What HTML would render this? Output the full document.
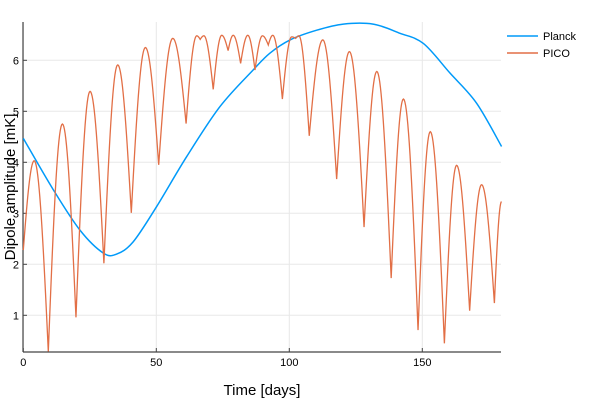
<!DOCTYPE html>
<html><head><meta charset="utf-8"><style>
body{margin:0;background:#fff}
svg{display:block;font-family:"Liberation Sans",sans-serif}
</style></head><body>
<svg id="chart" width="600" height="400" viewBox="0 0 600 400" xmlns="http://www.w3.org/2000/svg">
<g id="grid"></g>
<g id="axes"></g>
<g id="series"></g>
<text x="262" y="395" font-size="15" text-anchor="middle" fill="#000">Time [days]</text>
<text transform="translate(15,187) rotate(-90)" font-size="15" text-anchor="middle" fill="#000">Dipole amplitude [mK]</text>
<g>
<line x1="507" y1="36" x2="538" y2="36" stroke="#009af9" stroke-width="1.5"/>
<text x="543" y="40" font-size="11">Planck</text>
<line x1="507" y1="53" x2="538" y2="53" stroke="#e26f46" stroke-width="1.5"/>
<text x="543" y="57" font-size="11">PICO</text>
</g>
</svg>
<script>
const xTicks=[0,50,100,150];
const yTicks=[1,2,3,4,5,6];
const planckDays=[0,11.3,21.3,30.1,35.1,41.3,50.1,61.4,73.9,86.4,92.7,100.3,110.3,120.3,131.5,141.6,150.4,160.4,170.4,179.8];
const planckVals=[4.47,3.46,2.67,2.22,2.20,2.44,3.13,4.11,5.09,5.81,6.14,6.40,6.59,6.71,6.71,6.53,6.33,5.75,5.16,4.31];
const picoDays=[0,4.1,9.4,14.7,19.8,25.1,30.3,35.5,40.6,45.9,50.9,56.2,61.2,65.2,66.5,67.9,71.4,74.6,77.0,78.9,81.7,84.4,87.1,89.9,92.1,93.8,97.4,100.9,102.4,103.6,107.5,112.6,117.8,122.6,128.1,132.9,138.3,142.9,148.4,153.0,158.3,162.9,167.8,172.3,177.1,179.8];
const picoVals=[2.28,4.03,0.29,4.75,0.96,5.39,2.02,5.91,3.01,6.25,3.95,6.43,4.76,6.48,6.41,6.48,5.43,6.49,6.19,6.49,5.94,6.49,5.81,6.48,6.30,6.49,5.24,6.46,6.43,6.48,4.52,6.40,3.67,6.17,2.73,5.78,1.73,5.24,0.71,4.60,0.45,3.94,1.09,3.56,1.24,3.23];

const X0=23.3,XS=2.66,L=23,R=501,T=22,B=352;
const sx=d=>X0+d*XS;
const sy=v=>315.3-(v-1)*51;
const NS="http://www.w3.org/2000/svg";
function mk(tag,attrs,parent){const e=document.createElementNS(NS,tag);for(const k in attrs)e.setAttribute(k,attrs[k]);parent.appendChild(e);return e;}
const grid=document.getElementById('grid'),axes=document.getElementById('axes'),series=document.getElementById('series');
xTicks.forEach(t=>{
  const g=mk('line',{x1:sx(t),x2:sx(t),y1:T,y2:B,stroke:'#e8e8e8','stroke-width':1},grid);
  
  
  const k=mk('line',{x1:sx(t),x2:sx(t),y1:B,y2:B-4,stroke:'#444','stroke-width':1},axes);
  
  
  const l=mk('text',{x:sx(t),y:B+14,'font-size':11,'text-anchor':'middle'},axes);
  l.textContent=t;
  
  
});
yTicks.forEach(t=>{
  const g=mk('line',{x1:L,x2:R,y1:sy(t),y2:sy(t),stroke:'#e8e8e8','stroke-width':1},grid);
  
  
  const k=mk('line',{x1:L,x2:L+4,y1:sy(t),y2:sy(t),stroke:'#444','stroke-width':1},axes);
  
  
  const l=mk('text',{x:L-4,y:sy(t)+4,'font-size':11,'text-anchor':'end'},axes);
  l.textContent=t;
  
  
});
const xa=mk('line',{x1:L,x2:R,y1:B,y2:B,stroke:'#444','stroke-width':1.2},axes);


const ya=mk('line',{x1:L,x2:L,y1:T,y2:B,stroke:'#444','stroke-width':1.2},axes);



// Planck: Catmull-Rom through samples
let p=`M${sx(planckDays[0])},${sy(planckVals[0])}`;
for(let i=0;i<planckDays.length-1;i++){
  const P=j=>[sx(planckDays[Math.max(0,Math.min(planckDays.length-1,j))]),sy(planckVals[Math.max(0,Math.min(planckDays.length-1,j))])];
  const p0=P(i-1),p1=P(i),p2=P(i+1),p3=P(i+2);
  const c1=[p1[0]+(p2[0]-p0[0])/6,p1[1]+(p2[1]-p0[1])/6],c2=[p2[0]-(p3[0]-p1[0])/6,p2[1]-(p3[1]-p1[1])/6];
  p+=` C${c1[0]},${c1[1]} ${c2[0]},${c2[1]} ${p2[0]},${p2[1]}`;
}
const pl=mk('path',{d:p,fill:'none',stroke:'#009af9','stroke-width':1.5},series);



// PICO: between extrema, sharp at minima, rounded at maxima
let q='';
for(let i=0;i<picoDays.length-1;i++){
  const d0=picoDays[i],d1=picoDays[i+1],v0=picoVals[i],v1=picoVals[i+1];
  const up=v1>v0,lo=Math.min(v0,v1),hi=Math.max(v0,v1);
  for(let s=0;s<=20;s++){
    const t=s/20,d=d0+(d1-d0)*t;
    const u=up?t:1-t;
    const v=lo+(hi-lo)*Math.sin(Math.PI/2*u);
    q+=(q?' L':'M')+sx(d).toFixed(2)+','+sy(v).toFixed(2);
  }
}
const pc=mk('path',{d:q,fill:'none',stroke:'#e26f46','stroke-width':1.3},series);


</script>
</body></html>
